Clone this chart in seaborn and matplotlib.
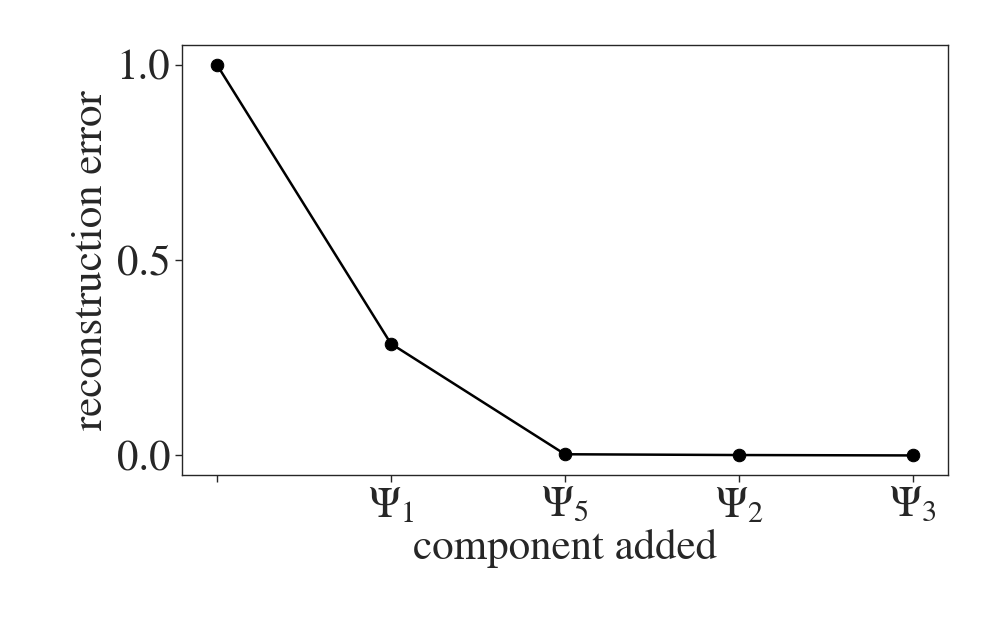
import pandas as pd
import matplotlib.pyplot as plt
import seaborn as sns

# reconstruction error after each component is added
components = ['', r'$\Psi_1$', r'$\Psi_5$', r'$\Psi_2$', r'$\Psi_3$']
step = [0, 1, 2, 3, 4]
error = [1.0, 0.286, 0.003, 0.001, 0.0]

df = pd.DataFrame({'step': step, 'error': error})

sns.set_style("ticks")
plt.rcParams['font.family'] = ['STIXGeneral', 'DejaVu Serif']
plt.rcParams['mathtext.fontset'] = 'stix'

fig = plt.figure(figsize=(9.96, 6.23), dpi=100)
ax = fig.add_axes([0.1827, 0.2376, 0.7691, 0.6902])
sns.lineplot(data=df, x='step', y='error', color='black', marker='o',
             markersize=9, linewidth=1.8, markeredgecolor='black', ax=ax)

ax.set_xticks(step)
ax.set_xticklabels(components)
ax.set_yticks([0.0, 0.5, 1.0])
ax.tick_params(labelsize=31, length=5, width=1)
ax.set_xlabel('component added', fontsize=31, labelpad=2)
ax.set_ylabel('reconstruction error', fontsize=31)
for s in ax.spines.values():
    s.set_linewidth(1)

plt.savefig('out.png', dpi=100)
